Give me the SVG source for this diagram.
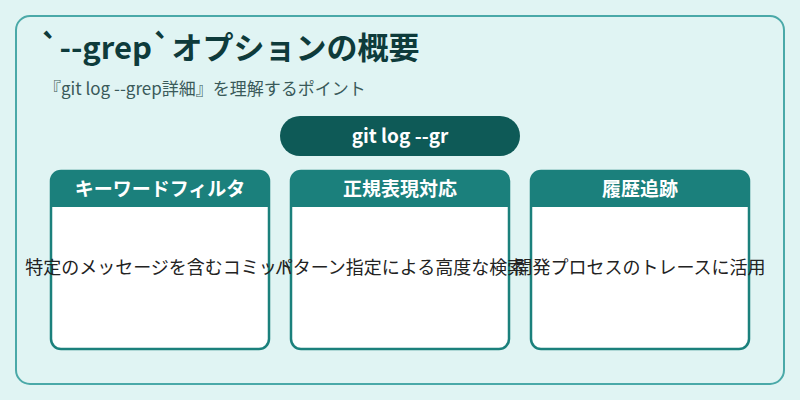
<svg xmlns="http://www.w3.org/2000/svg" width="800" height="400" viewBox="0 0 800 400">
<style>
text{font-family:"Noto Sans CJK JP","Noto Sans",sans-serif}
.hd{fill:#1b807c}
.card{fill:#fff;stroke:#1b807c;stroke-width:2.5}
.ht{fill:#fff;font-size:19px;font-weight:bold;text-anchor:middle}
.bt{fill:#222;font-size:18px;text-anchor:middle}
</style>
<rect width="800" height="400" fill="#e0f4f3"/>
<rect x="16" y="16" width="768" height="368" rx="14" fill="#e0f4f3" stroke="#4aa9a8" stroke-width="2"/>
<text x="40" y="59" font-size="31" font-weight="bold" fill="#0e3b3b">`--grep`オプションの概要</text>
<text x="44" y="95" font-size="17" fill="#3a5a5a">『git log --grep詳細』を理解するポイント</text>
<g id="root">
<rect x="280" y="116" width="240" height="40" rx="20" fill="#0e5a57"/>
<text x="400" y="143" font-size="19" font-weight="bold" fill="#fff" text-anchor="middle">git log --gr</text>
</g>
<g id="connectors"></g>
<g id="card1">
<rect class="card" x="51" y="171" width="218" height="178" rx="10"/>
<path class="hd" d="M51 207V181a10 10 0 0 1 10-10h198a10 10 0 0 1 10 10v26z"/>
<text class="ht" x="160" y="196">キーワードフィルタ</text>
<text class="bt" x="160" y="274">特定のメッセージを含むコミット</text>
</g>
<g id="card2">
<rect class="card" x="291" y="171" width="218" height="178" rx="10"/>
<path class="hd" d="M291 207V181a10 10 0 0 1 10-10h198a10 10 0 0 1 10 10v26z"/>
<text class="ht" x="400" y="196">正規表現対応</text>
<text class="bt" x="400" y="274">パターン指定による高度な検索</text>
</g>
<g id="card3">
<rect class="card" x="531" y="171" width="218" height="178" rx="10"/>
<path class="hd" d="M531 207V181a10 10 0 0 1 10-10h198a10 10 0 0 1 10 10v26z"/>
<text class="ht" x="640" y="196">履歴追跡</text>
<text class="bt" x="640" y="274">開発プロセスのトレースに活用</text>
</g>
</svg>
